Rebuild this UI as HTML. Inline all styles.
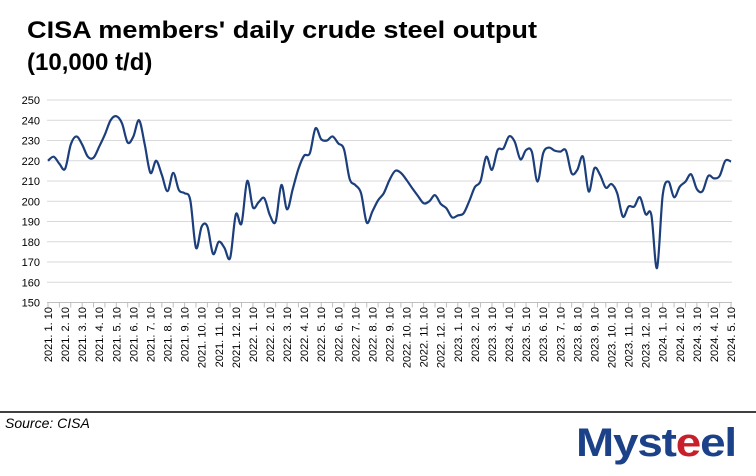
<!DOCTYPE html>
<html><head><meta charset="utf-8"><style>
body{margin:0;background:#fff;width:756px;height:476px;overflow:hidden;font-family:"Liberation Sans",sans-serif}
svg{display:block}
</style></head><body>
<svg id="chart" width="756" height="476">
<text x="27" y="38" font-size="24" font-weight="bold" fill="#000" textLength="510" lengthAdjust="spacingAndGlyphs">CISA members' daily crude steel output</text>
<text x="27" y="70" font-size="24" font-weight="bold" fill="#000">(10,000 t/d)</text>
<g id="grid"></g><g id="yax"></g><g id="xax"></g><g id="series"></g>
<line x1="0" y1="412" x2="756" y2="412" stroke="#000" stroke-width="1.5"/>
<text x="5" y="428" font-size="14" font-style="italic" fill="#000">Source: CISA</text>
<g>
<text x="576" y="456" font-size="40" font-weight="bold" fill="#1b4189" letter-spacing="-1" textLength="160" lengthAdjust="spacingAndGlyphs">Myst<tspan fill="#c8202b">e</tspan>el</text>
</g>
</svg>
<script>
const values=[220,222,218.5,216,228,232,228,222,221.5,227,233,240,242,238.5,229,232,240,228,214,220,213,205,214,205.5,204,200.5,177,187.5,187.5,174,180,177,172,193.5,189,210,197,199.5,201.5,193,190,208,196,206,216,222.5,223.7,236,230.6,230,232,228.6,225.7,211,208,204,189.5,195,200.5,204,210.5,215,214,210.5,206.4,202.6,199,200,203,198.7,196.5,192,193,194,200,207,210,222,215.5,225.3,226,232,229.4,220.7,225.3,224.5,209.7,223.7,226.5,225,224.5,225,213.8,215.5,222,204.8,216.3,213,206.7,208.5,204,192.4,197.4,197.4,202,193.6,193.3,167,203,209.7,202,207.2,209.7,213.3,206,205,212.5,211.3,212.5,220,219.6];
const yTicks=[150,160,170,180,190,200,210,220,230,240,250];
const years=[2021,2022,2023,2024];
const NS="http://www.w3.org/2000/svg";
const X0=48,X1=731,Y0=302.5,Y1=100;
const x=i=>X0+(X1-X0)*i/(values.length-1);
const y=v=>Y0-(v-150)/100*(Y0-Y1);
function mk(t,a,p){const e=document.createElementNS(NS,t);for(const k in a)e.setAttribute(k,a[k]);p.appendChild(e);return e;}
const grid=document.getElementById('grid'),yax=document.getElementById('yax'),xax=document.getElementById('xax'),ser=document.getElementById('series');
yTicks.forEach(t=>{
  if(t>150){const g=mk('line',{x1:X0-1,x2:X1+1,y1:y(t),y2:y(t),stroke:'#d9d9d9','stroke-width':1},grid);
  
  }
  const l=mk('text',{x:40,y:y(t)+4,'font-size':11,'text-anchor':'end',fill:'#000'},yax);l.textContent=t;
  
  
});
const ax=mk('line',{x1:X0-1,x2:X1+1,y1:Y0,y2:Y0,stroke:'#bfbfbf','stroke-width':1},xax);


for(let i=0;i<values.length;i+=2){mk('line',{x1:x(i),x2:x(i),y1:Y0,y2:Y0+5,stroke:'#bfbfbf'},xax);}
const labels=[];
years.forEach(yr=>{for(let m=1;m<=12;m++){if(yr===2024&&m>5)break;labels.push(yr+'. '+m+'. 10');}});
labels.forEach((s,k)=>{const px=x(k*3)+4;
  const t=mk('text',{x:0,y:0,'font-size':11,'text-anchor':'end',fill:'#000',transform:`translate(${px},307) rotate(-90)`},xax);t.textContent=s;
  
  });
const P=values.map((v,i)=>[x(i),y(v)]);
let d=`M${P[0][0]},${P[0][1]}`;
for(let i=0;i<P.length-1;i++){const p0=P[Math.max(0,i-1)],p1=P[i],p2=P[i+1],p3=P[Math.min(P.length-1,i+2)];const k=1/6;
d+=` C${p1[0]+(p2[0]-p0[0])*k},${p1[1]+(p2[1]-p0[1])*k} ${p2[0]-(p3[0]-p1[0])*k},${p2[1]-(p3[1]-p1[1])*k} ${p2[0]},${p2[1]}`;}
const path=mk('path',{d:d,fill:'none',stroke:'#1c3f7c','stroke-width':2.2,'stroke-linejoin':'round'},ser);


</script>
</body></html>
